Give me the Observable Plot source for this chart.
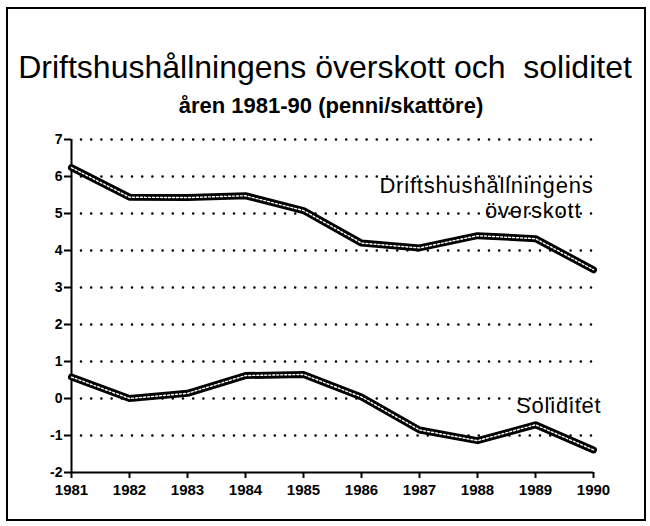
<!DOCTYPE html>
<html>
<head>
<meta charset="utf-8">
<script src="https://cdn.jsdelivr.net/npm/d3@7"></script>
<script src="https://cdn.jsdelivr.net/npm/@observablehq/plot@0.6"></script>
<style>
  html, body { margin: 0; padding: 0; background: #fff; }
  #wrap { position: relative; width: 650px; height: 526px; overflow: hidden; font-family: "Liberation Sans", Arial, Helvetica, sans-serif; color: #000; }
  #frame { position: absolute; left: 6px; top: 7px; width: 636px; height: 510px; border: 2.5px solid #000; }
  #title { position: absolute; left: 0; width: 650px; top: 49px; text-align: center; font-size: 32px; line-height: 36px; white-space: pre; }
  #subtitle { position: absolute; left: 6px; width: 650px; top: 93px; text-align: center; font-size: 22px; font-weight: bold; line-height: 26px; white-space: nowrap; }
  #chart { position: absolute; left: 0; top: 120px; }
  .serieslabel text { letter-spacing: 0.8px; }
</style>
</head>
<body>
<div id="wrap">
  <div id="frame"></div>
  <div id="title">Driftshushållningens överskott och  soliditet</div>
  <div id="subtitle">åren 1981-90 (penni/skattöre)</div>
  <div id="chart"></div>
</div>
<script>
const years = [1981, 1982, 1983, 1984, 1985, 1986, 1987, 1988, 1989, 1990];
const overskott = [6.24, 5.44, 5.43, 5.48, 5.08, 4.2, 4.07, 4.4, 4.32, 3.48];
const soliditet = [0.58, 0.0, 0.14, 0.62, 0.65, 0.04, -0.85, -1.14, -0.71, -1.39];
const yTicks = [-2, -1, 0, 1, 2, 3, 4, 5, 6, 7];
const gridTicks = [-1, 0, 1, 2, 3, 4, 5, 6, 7];
const seriesLabels = [
  {text: "Driftshushållningens\növerskott\u00a0\u2009", year: 1990, value: 4.89, dx: 0},
  {text: "Soliditet", year: 1990, value: -0.40, dx: 8}
];

const rows1 = years.map((y, i) => ({year: y, value: overskott[i]}));
const rows2 = years.map((y, i) => ({year: y, value: soliditet[i]}));

const chart = Plot.plot({
  width: 650,
  height: 390,
  marginLeft: 71,
  marginRight: 57,
  marginTop: 19,
  marginBottom: 38,
  style: {fontFamily: "'Liberation Sans', Arial, sans-serif", color: "#000", background: "transparent", overflow: "visible"},
  x: {domain: [1981, 1990], label: null},
  y: {domain: [-2, 7], label: null},
  marks: [
    Plot.gridY(gridTicks, {stroke: "#000", strokeOpacity: 1, strokeWidth: 2.6, strokeDasharray: "0,10.2", strokeLinecap: "round", strokeDashoffset: -10}),
    Plot.ruleX([1981], {stroke: "#000", strokeWidth: 2}),
    Plot.ruleY([-2], {stroke: "#000", strokeWidth: 2}),
    Plot.axisY(yTicks, {label: null, tickSize: 7, tickPadding: 2, tickFormat: d => String(d), fontWeight: "bold", fontSize: 14, strokeWidth: 2}),
    Plot.axisX(years, {label: null, tickSize: 6, tickPadding: 6, tickFormat: d => String(d), fontWeight: "bold", fontSize: 15, strokeWidth: 2}),
    Plot.line(rows1, {x: "year", y: "value", stroke: "#000", strokeWidth: 7, strokeLinejoin: "round"}),
    Plot.line(rows1, {x: "year", y: "value", stroke: "#fff", strokeWidth: 1.4, strokeDasharray: "2,2"}),
    Plot.line(rows2, {x: "year", y: "value", stroke: "#000", strokeWidth: 7, strokeLinejoin: "round"}),
    Plot.line(rows2, {x: "year", y: "value", stroke: "#fff", strokeWidth: 1.4, strokeDasharray: "2,2"}),
    ...seriesLabels.map(l => Plot.text([l], {x: "year", y: "value", text: "text", dx: l.dx, textAnchor: "end", lineAnchor: "bottom", lineHeight: 1.13, fontSize: 22, fill: "#000", className: "serieslabel"}))
  ]
});
document.getElementById("chart").appendChild(chart);
</script>
</body>
</html>
